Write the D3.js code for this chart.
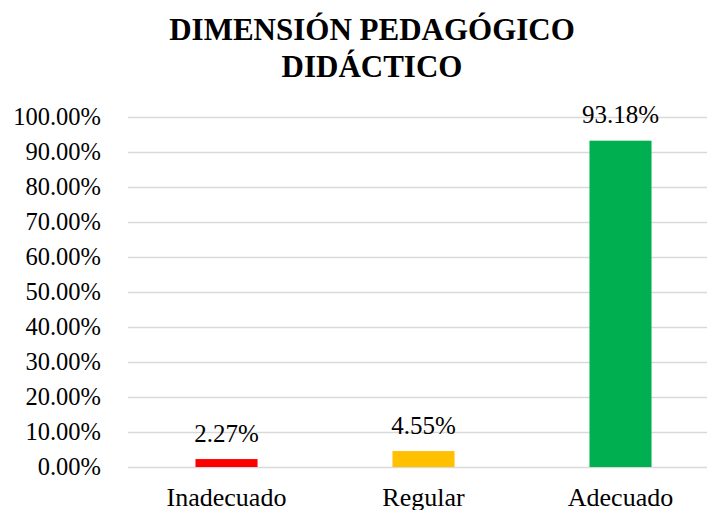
<!DOCTYPE html>
<html>
<head>
<meta charset="utf-8">
<script src="https://cdn.jsdelivr.net/npm/d3@7"></script>
<style>
html,body{margin:0;padding:0;background:#fff;overflow:hidden;}
svg{display:block;}
</style>
</head>
<body>
<svg id="chart" width="707" height="510"></svg>
<script>
const titleLines = ["DIMENSIÓN PEDAGÓGICO", "DIDÁCTICO"];
const categories = ["Inadecuado", "Regular", "Adecuado"];
const values = [2.27, 4.55, 93.18];
const colors = ["#FF0000", "#FFC000", "#00B050"];
const tickValues = [0, 10, 20, 30, 40, 50, 60, 70, 80, 90, 100];

const FONT = '"Liberation Serif"';
const svg = d3.select("#chart");
const plot = {left: 128, right: 719, top: 116.8, bottom: 467};

const x = d3.scaleBand().domain(categories).range([plot.left, plot.right]).padding(0);
const y = d3.scaleLinear().domain([0, 100]).range([plot.bottom, plot.top]);
const barW = x.bandwidth() * 0.315;

// title
svg.append("g").selectAll("text").data(titleLines).join("text")
  .attr("x", 372).attr("y", (d, i) => 40 + i * 37)
  .attr("text-anchor", "middle")
  .style("font-family", FONT)
  .style("font-size", "31px").style("font-weight", "bold")
  .text(d => d);

// gridlines
svg.append("g").selectAll("line").data(tickValues).join("line")
  .attr("x1", plot.left).attr("x2", plot.right)
  .attr("y1", d => Math.round(y(d)) + 0.5).attr("y2", d => Math.round(y(d)) + 0.5)
  .attr("stroke", "#D9D9D9").attr("stroke-width", 1.3);

// y axis labels
const yAxis = d3.axisLeft(y).tickValues(tickValues).tickSize(0).tickPadding(0)
  .tickFormat(d => d3.format(".2f")(d) + "%");
const ya = svg.append("g").attr("transform", `translate(101,0)`).call(yAxis);
ya.select(".domain").remove();
ya.attr("font-family", null).attr("font-size", null);
ya.selectAll("text").style("font-family", FONT).style("font-size", "24.5px").attr("fill", "#000");

// bars
svg.append("g").selectAll("rect").data(values).join("rect")
  .attr("x", (d, i) => x(categories[i]) + x.bandwidth() / 2 - barW / 2)
  .attr("width", barW)
  .attr("y", d => y(d))
  .attr("height", d => y(0) - y(d))
  .attr("fill", (d, i) => colors[i]);

// data labels
svg.append("g").selectAll("text").data(values).join("text")
  .attr("x", (d, i) => x(categories[i]) + x.bandwidth() / 2)
  .attr("y", d => y(d) - 17.5)
  .attr("text-anchor", "middle")
  .style("font-family", FONT)
  .style("font-size", "25px")
  .text(d => d3.format(".2f")(d) + "%");

// x axis labels
const xAxis = d3.axisBottom(x).tickSize(0).tickPadding(0);
const xa = svg.append("g").attr("transform", `translate(0,${plot.bottom})`).call(xAxis);
xa.select(".domain").remove();
xa.attr("font-family", null).attr("font-size", null);
xa.selectAll("text").attr("dy", null).attr("y", 38.5)
  .style("font-family", FONT).style("font-size", "26px").attr("fill", "#000");
</script>
</body>
</html>
